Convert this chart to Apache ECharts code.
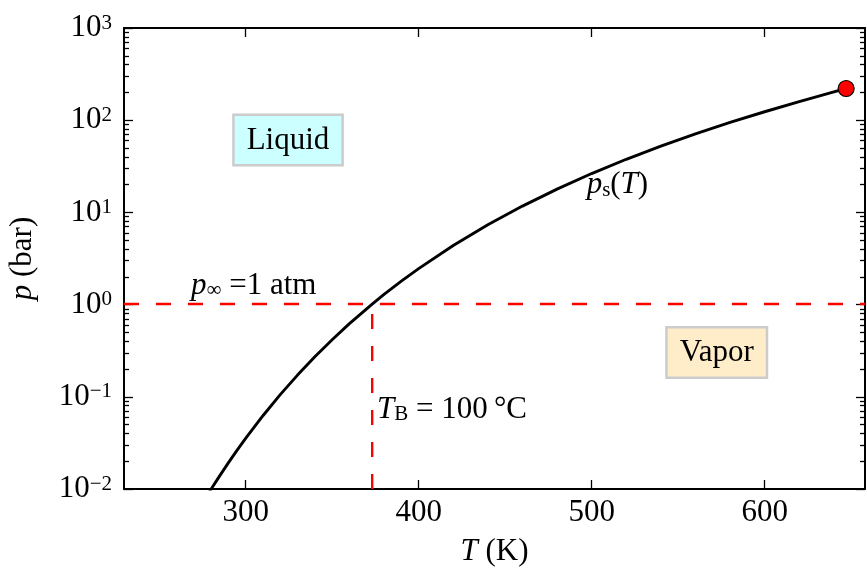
<!DOCTYPE html>
<html>
<head>
<meta charset="utf-8">
<script src="https://cdn.jsdelivr.net/npm/echarts@6/dist/echarts.min.js"></script>
<style>
html,body{margin:0;padding:0;background:#fff;}
#chart{width:867px;height:568px;}
</style>
</head>
<body>
<div id="chart"></div>
<script>
// Saturation temperature (K) and pressure (bar) of water
const satT = [273.16, 275, 280, 285, 290, 295, 300, 310, 320, 330, 340, 350, 360, 373.15, 380, 390, 400, 420, 440, 460, 480, 500, 520, 540, 560, 580, 600, 620, 640, 647.1];
const satP = [0.00612, 0.00697, 0.00992, 0.01389, 0.0192, 0.02621, 0.03537, 0.06231, 0.1055, 0.1719, 0.2713, 0.4163, 0.6218, 1.01325, 1.289, 1.794, 2.456, 4.37, 7.33, 11.71, 17.9, 26.39, 37.69, 52.38, 71.08, 94.51, 123.5, 159.1, 202.7, 220.6];
const critical = [647.1, 220.6];
const boilingT = 373.15;
const atmP = 1.01325;
const xRange = [229.7, 658];
const yRange = [0.01, 1000];
const xTicks = [300, 400, 500, 600];
const yMajor = [0.01, 0.1, 1, 10, 100, 1000];
const yMinor = [];
[0.01, 0.1, 1, 10, 100].forEach(d => { for (let k = 2; k <= 9; k++) yMinor.push(+(d * k).toPrecision(3)); });

const FONT = 'Liberation Serif, Times New Roman, serif';
const FS = 31;
const chart = echarts.init(document.getElementById('chart'));

function expLabel(v) {
  const e = Math.round(Math.log10(v));
  return '10{s|' + String(e).replace('-', '\u2212') + '}';
}
const labelRich = { s: { fontSize: 21, fontFamily: FONT, color: '#000', verticalAlign: 'top', lineHeight: 14 } };

const xBase = {
  type: 'value', min: xRange[0], max: xRange[1],
  axisLine: { show: true, lineStyle: { color: '#000', width: 2 } },
  splitLine: { show: false },
};
const yBase = {
  type: 'log', logBase: 10, min: yRange[0], max: yRange[1],
  axisLine: { show: true, lineStyle: { color: '#000', width: 2 } },
  splitLine: { show: false },
};

const option = {
  animation: false,
  backgroundColor: '#fff',
  grid: { left: 124, right: 2, top: 28, bottom: 79, containLabel: false, outerBoundsMode: 'none' },
  xAxis: [
    Object.assign({}, xBase, {
      position: 'bottom',
      axisTick: { show: true, inside: true, length: 9, lineStyle: { color: '#000', width: 1.3 }, customValues: xTicks },
      axisLabel: { show: true, customValues: xTicks, margin: 8, fontSize: FS, fontFamily: FONT, color: '#000' },
      name: '{i|T} (K)', nameLocation: 'middle', nameGap: 47,
      nameTextStyle: { fontSize: FS, fontFamily: FONT, color: '#000', rich: { i: { fontStyle: 'italic', fontSize: FS, fontFamily: FONT } } }
    }),
    Object.assign({}, xBase, {
      position: 'top',
      axisTick: { show: true, inside: true, length: 9, lineStyle: { color: '#000', width: 1.3 }, customValues: xTicks },
      axisLabel: { show: false }
    })
  ],
  yAxis: [
    Object.assign({}, yBase, {
      position: 'left',
      axisTick: { show: true, inside: true, length: 9, lineStyle: { color: '#000', width: 1.3 }, customValues: yMajor },
      axisLabel: { show: true, customValues: yMajor, margin: 12, fontSize: FS, fontFamily: FONT, color: '#000', formatter: expLabel, rich: labelRich },
      name: '{i|p} (bar)', nameLocation: 'middle', nameGap: 86, nameRotate: 90,
      nameTextStyle: { fontSize: FS, fontFamily: FONT, color: '#000', rich: { i: { fontStyle: 'italic', fontSize: FS, fontFamily: FONT } } }
    }),
    Object.assign({}, yBase, {
      position: 'right',
      axisTick: { show: true, inside: true, length: 9, lineStyle: { color: '#000', width: 1.3 }, customValues: yMajor },
      axisLabel: { show: false }
    }),
    Object.assign({}, yBase, {
      position: 'left', axisLine: { show: false },
      axisTick: { show: true, inside: true, length: 5, lineStyle: { color: '#000', width: 1.3 }, customValues: yMinor },
      axisLabel: { show: false }
    }),
    Object.assign({}, yBase, {
      position: 'right', axisLine: { show: false },
      axisTick: { show: true, inside: true, length: 5, lineStyle: { color: '#000', width: 1.3 }, customValues: yMinor },
      axisLabel: { show: false }
    })
  ],
  series: [
    {
      type: 'line', name: 'atm', data: [[xRange[0], atmP], [xRange[1], atmP]],
      symbol: 'none', silent: true, z: 2,
      lineStyle: { color: '#ff0000', width: 2.4, type: [15, 17] }
    },
    {
      type: 'line', name: 'boil', data: [[boilingT, yRange[0]], [boilingT, atmP]],
      symbol: 'none', silent: true, z: 2,
      lineStyle: { color: '#ff0000', width: 2.4, type: [15, 17] }
    },
    {
      type: 'line', name: 'ps', data: satT.map((t, i) => [t, satP[i]]),
      symbol: 'none', smooth: false, clip: true, z: 3,
      lineStyle: { color: '#000', width: 2.9 }
    },
    {
      type: 'scatter', data: [critical], symbol: 'circle', symbolSize: 16, z: 5,
      itemStyle: { color: '#ff0000', borderColor: '#000', borderWidth: 1.2, opacity: 1 }
    },
    {
      type: 'scatter', symbolSize: 0, silent: true, z: 6,
      itemStyle: { opacity: 1 },
      data: [
        { value: [324.5, 61], label: { formatter: 'Liquid', backgroundColor: '#ccffff', borderColor: '#cccccc', borderWidth: 2.5, padding: [9, 12, 8, 12] } },
        { value: [572.3, 0.302], label: { formatter: 'Vapor', backgroundColor: '#ffecc9', borderColor: '#cccccc', borderWidth: 2.5, padding: [9, 12, 8, 12] } },
        { value: [268.4, 1.6], label: { align: 'left', formatter: '{i|p}{sb|\u221e} =1 atm' } },
        { value: [375.9, 0.072], label: { align: 'left', formatter: '{i|T}{sbr|B} = 100\u2009\u00b0C' } },
        { value: [497.1, 19.8], label: { align: 'left', formatter: '{i|p}{sbr|s}({i|T})' } }
      ],
      label: {
        show: true, position: 'inside', fontSize: FS, fontFamily: FONT, color: '#000', opacity: 1,
        verticalAlign: 'middle', align: 'center',
        rich: {
          i: { fontStyle: 'italic', fontSize: FS, fontFamily: FONT, color: '#000' },
          sb: { fontSize: 21, fontFamily: FONT, color: '#000', verticalAlign: 'bottom', lineHeight: 12 },
          sbr: { fontSize: 21, fontFamily: FONT, color: '#000', verticalAlign: 'bottom', lineHeight: 12 }
        }
      }
    }
  ]
};
chart.setOption(option);
</script>
</body>
</html>
